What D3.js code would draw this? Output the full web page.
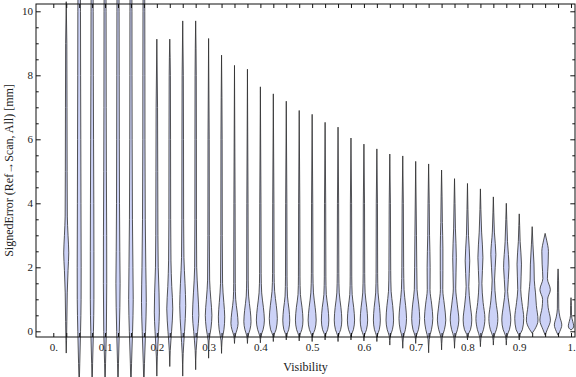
<!DOCTYPE html>
<html>
<head>
<meta charset="utf-8">
<script src="https://cdn.jsdelivr.net/npm/d3@7"></script>
<style>
  body { margin: 0; background: #fff; }
  text { font-family: "Liberation Serif", "Times New Roman", serif; fill: #222; }
</style>
</head>
<body>
<div id="chart"></div>
<script>
// violin positions along the Visibility axis
var visibility = [0.025, 0.05, 0.075, 0.1, 0.125, 0.15, 0.175, 0.2, 0.225, 0.25,
  0.275, 0.3, 0.325, 0.35, 0.375, 0.4, 0.425, 0.45, 0.475, 0.5,
  0.525, 0.55, 0.575, 0.6, 0.625, 0.65, 0.675, 0.7, 0.725, 0.75,
  0.775, 0.8, 0.825, 0.85, 0.875, 0.9, 0.925, 0.95, 0.975, 1.0];

// lowest / highest signed error of each violin (mm)
var minErr = [-0.68, -1.8, -1.8, -1.8, -1.8, -1.8, -1.8, -1.4, -1.1, -1.4,
  -1.2, -0.84, -0.69, -0.38, -0.38, -0.36, -0.32, -0.27, -0.3, -0.32,
  -0.27, -0.32, -0.27, -0.3, -0.32, -0.43, -0.53, -0.38, -0.67, -0.58,
  -0.53, -0.27, -0.48, -0.43, -0.43, -0.27, -0.06, -0.12, -0.12, 0.04];

var maxErr = [10.3, 15, 15, 15, 15, 15, 15, 9.13, 9.13, 9.7,
  9.7, 9.15, 8.63, 8.31, 8.19, 7.64, 7.42, 7.19, 6.9, 6.78,
  6.53, 6.38, 6.04, 5.85, 5.7, 5.54, 5.48, 5.31, 5.23, 5.04,
  4.77, 4.62, 4.45, 4.2, 4.0, 3.67, 3.27, 3.06, 1.95, 1.05];

// density profile of each violin: [error value, relative density]
var profiles = [
  [[-0.3,0.05],[0.3,0.1],[1.2,0.17],[1.9,0.3],[2.45,0.42],[3.0,0.3],[3.6,0.18],[5,0.15],[7,0.13],[9,0.1]],
  [[-1,0.1],[0,0.23],[1,0.32],[2,0.33],[4,0.3],[6,0.27],[8,0.24],[10,0.22],[12,0.15]],
  [[-1,0.08],[0,0.22],[1,0.3],[2.5,0.3],[4,0.28],[6,0.24],[8,0.2],[10,0.18],[12,0.13]],
  [[-1,0.08],[0,0.22],[1.5,0.28],[3,0.27],[5,0.22],[7,0.19],[10,0.17],[12,0.12]],
  [[-1,0.08],[0,0.22],[1.5,0.35],[2.5,0.3],[4,0.25],[6,0.22],[8,0.2],[10,0.18],[12,0.13]],
  [[-1,0.1],[0,0.27],[1,0.38],[2,0.33],[3.5,0.25],[6,0.2],[8,0.18],[10,0.17],[12,0.12]],
  [[-1,0.1],[0,0.28],[0.9,0.4],[2,0.32],[3.5,0.23],[6,0.18],[8,0.17],[10,0.15],[12,0.1]],
  [[-0.8,0.08],[0,0.3],[0.6,0.42],[1.2,0.37],[2,0.23],[3,0.18],[5,0.15],[7,0.12]],
  [[-0.6,0.08],[0,0.3],[0.7,0.5],[1.4,0.33],[2.2,0.2],[3.5,0.15],[6,0.13],[8,0.1]],
  [[-0.7,0.08],[0,0.3],[0.8,0.5],[1.5,0.38],[2.3,0.2],[3.5,0.15],[6,0.13],[8,0.1]],
  [[-0.6,0.08],[0,0.33],[0.5,0.53],[1.2,0.37],[2,0.17],[3.5,0.13],[6,0.12],[8,0.1]],
  [[-0.3,0.08],[0.1,0.4],[0.5,0.55],[1,0.37],[1.6,0.17],[3,0.12],[6,0.1]],
  [[-0.3,0.08],[0.05,0.4],[0.45,0.53],[0.9,0.38],[1.5,0.17],[3,0.12],[6,0.1]],
  [[-0.15,0.1],[0.05,0.42],[0.25,0.6],[0.6,0.45],[1,0.2],[1.5,0.13],[4,0.1]],
  [[-0.15,0.1],[0.05,0.42],[0.3,0.6],[0.65,0.47],[1.1,0.2],[1.6,0.13],[4,0.1]],
  [[-0.15,0.1],[0.05,0.45],[0.35,0.67],[0.75,0.5],[1.2,0.22],[1.8,0.13],[4,0.1]],
  [[-0.12,0.1],[0.05,0.45],[0.4,0.67],[0.8,0.5],[1.25,0.22],[1.8,0.13],[4,0.1]],
  [[-0.1,0.1],[0.05,0.4],[0.35,0.58],[0.7,0.45],[1.1,0.2],[1.7,0.13],[4,0.1]],
  [[-0.12,0.1],[0.05,0.43],[0.35,0.63],[0.75,0.47],[1.15,0.2],[1.7,0.13],[4,0.1]],
  [[-0.12,0.1],[0.05,0.45],[0.35,0.67],[0.75,0.5],[1.2,0.22],[1.8,0.13],[4,0.1]],
  [[-0.1,0.1],[0.05,0.42],[0.35,0.62],[0.75,0.47],[1.15,0.2],[1.7,0.13],[4,0.1]],
  [[-0.12,0.1],[0.05,0.43],[0.35,0.63],[0.75,0.48],[1.2,0.2],[1.8,0.13],[4,0.1]],
  [[-0.1,0.1],[0.05,0.4],[0.35,0.6],[0.75,0.45],[1.15,0.2],[1.7,0.13],[4,0.1]],
  [[-0.12,0.1],[0.05,0.42],[0.35,0.62],[0.75,0.47],[1.2,0.2],[1.8,0.13],[4,0.1]],
  [[-0.12,0.1],[0.05,0.4],[0.35,0.58],[0.75,0.45],[1.2,0.2],[1.8,0.13],[4,0.1]],
  [[-0.15,0.1],[0.05,0.43],[0.35,0.63],[0.8,0.48],[1.25,0.22],[1.9,0.15],[4,0.1]],
  [[-0.2,0.1],[0.05,0.43],[0.4,0.63],[0.8,0.48],[1.3,0.22],[2,0.15],[4,0.1]],
  [[-0.15,0.1],[0.05,0.45],[0.4,0.67],[0.85,0.5],[1.3,0.23],[2,0.18],[3,0.13]],
  [[-0.25,0.1],[0.05,0.47],[0.4,0.7],[0.85,0.5],[1.3,0.23],[2,0.25],[3,0.15],[4,0.1]],
  [[-0.2,0.1],[0.05,0.47],[0.35,0.7],[0.85,0.45],[1.3,0.2],[1.9,0.22],[2.6,0.22],[3.4,0.13],[4.2,0.08]],
  [[-0.2,0.1],[0.05,0.48],[0.35,0.72],[0.85,0.45],[1.35,0.2],[2.3,0.3],[3.2,0.15],[4,0.08]],
  [[-0.1,0.12],[0.05,0.5],[0.35,0.72],[0.85,0.45],[1.4,0.22],[2.2,0.38],[3,0.17],[3.8,0.08]],
  [[-0.2,0.1],[0.05,0.5],[0.4,0.75],[0.9,0.45],[1.5,0.25],[2.3,0.42],[3.1,0.2],[3.8,0.08]],
  [[-0.15,0.12],[0.05,0.5],[0.4,0.75],[0.95,0.42],[1.6,0.2],[2.4,0.42],[3.1,0.17],[3.7,0.07]],
  [[-0.15,0.12],[0.05,0.52],[0.35,0.75],[0.85,0.45],[1.25,0.22],[2,0.45],[2.8,0.2],[3.5,0.08]],
  [[-0.1,0.12],[0.05,0.52],[0.4,0.75],[0.9,0.45],[1.3,0.25],[2.1,0.37],[2.8,0.15],[3.3,0.07]],
  [[0.05,0.4],[0.35,0.97],[0.8,0.7],[1.2,0.55],[1.6,0.35],[2.1,0.3],[2.7,0.13]],
  [[0.05,0.35],[0.35,0.88],[0.75,0.5],[1.0,0.42],[1.3,0.87],[1.65,0.38],[2.1,0.5],[2.5,0.55],[2.85,0.25]],
  [[0.0,0.3],[0.2,0.62],[0.45,0.3],[0.7,0.12],[1.2,0.1],[1.6,0.08]],
  [[0.1,0.35],[0.17,0.45],[0.3,0.3],[0.5,0.08],[0.8,0.07]]
];

var xTickLabels = ["0.", "0.1", "0.2", "0.3", "0.4", "0.5", "0.6", "0.7", "0.8", "0.9", "1."];
var yMajorTicks = [0, 2, 4, 6, 8, 10];
var yMinorTicks = [0.5, 1, 1.5, 2.5, 3, 3.5, 4.5, 5, 5.5, 6.5, 7, 7.5, 8.5, 9, 9.5];

var svgWidth = 576;
var svgHeight = 377;

var margin = { top: 4, right: 1, bottom: 40, left: 36 };
var width = svgWidth - margin.left - margin.right;
var height = svgHeight - margin.top - margin.bottom;

var svg = d3.select("#chart")
  .append("svg")
  .attr("width", svgWidth)
  .attr("height", svgHeight);

var chartGroup = svg.append("g")
  .attr("transform", `translate(${margin.left}, ${margin.top})`);

// scales
var xScale = d3.scaleLinear().domain([-0.0334, 1.0077]).range([0, width]);
var yScale = d3.scaleLinear().domain([-0.178, 10.228]).range([height, 0]);
var wScale = d3.scaleLinear().domain([0, 1]).range([0, 6]);

// violins
var violinArea = d3.area()
  .curve(d3.curveMonotoneY)
  .y(d => yScale(d[0]))
  .x0(d => -wScale(d[1]))
  .x1(d => wScale(d[1]));

var violins = visibility.map(function(v, i) {
  return { vis: v, pts: [[minErr[i], 0]].concat(profiles[i], [[maxErr[i], 0]]) };
});

chartGroup.append("g").selectAll("path")
  .data(violins)
  .enter()
  .append("path")
  .attr("transform", d => `translate(${xScale(d.vis)},0)`)
  .attr("d", d => violinArea(d.pts))
  .attr("fill", "#ccd2f7")
  .attr("stroke", "#2e2e2e")
  .attr("stroke-opacity", 0.9)
  .attr("stroke-width", 0.9);

// frame
chartGroup.append("rect")
  .attr("x", 0)
  .attr("y", 0)
  .attr("width", width)
  .attr("height", height)
  .attr("fill", "none")
  .attr("stroke", "#111")
  .attr("stroke-width", 1);

var xTickValues = [0].concat(visibility);

function styleAxis(g) {
  g.select(".domain").remove();
  g.selectAll("line").attr("stroke", "#111");
  g.selectAll("text").attr("font-size", 11).attr("fill", "#222")
    .attr("font-family", "'Liberation Serif', 'Times New Roman', serif");
}

// bottom axis
chartGroup.append("g")
  .attr("transform", `translate(0, ${height})`)
  .call(d3.axisBottom(xScale)
    .tickValues(xTickValues)
    .tickSizeInner(-4)
    .tickSizeOuter(0)
    .tickPadding(6)
    .tickFormat((d, i) => i % 4 === 0 ? xTickLabels[i / 4] : ""))
  .call(styleAxis);

// top axis
chartGroup.append("g")
  .call(d3.axisTop(xScale)
    .tickValues(xTickValues)
    .tickSizeInner(-4)
    .tickSizeOuter(0)
    .tickFormat(""))
  .call(styleAxis);

// left axis
chartGroup.append("g")
  .call(d3.axisLeft(yScale).tickValues(yMinorTicks).tickSizeInner(-2.7).tickSizeOuter(0).tickFormat(""))
  .call(styleAxis);
chartGroup.append("g")
  .call(d3.axisLeft(yScale).tickValues(yMajorTicks).tickSizeInner(-4.7).tickSizeOuter(0).tickPadding(3))
  .call(styleAxis);

// right axis
chartGroup.append("g")
  .attr("transform", `translate(${width}, 0)`)
  .call(d3.axisRight(yScale).tickValues(yMinorTicks).tickSizeInner(-2.7).tickSizeOuter(0).tickFormat(""))
  .call(styleAxis);
chartGroup.append("g")
  .attr("transform", `translate(${width}, 0)`)
  .call(d3.axisRight(yScale).tickValues(yMajorTicks).tickSizeInner(-4.7).tickSizeOuter(0).tickFormat(""))
  .call(styleAxis);

// axis labels
svg.append("text")
  .attr("x", margin.left + width / 2)
  .attr("y", 371)
  .attr("text-anchor", "middle")
  .attr("font-size", 12)
  .text("Visibility");

svg.append("text")
  .attr("transform", `translate(12.5, ${margin.top + height / 2}) rotate(-90)`)
  .attr("text-anchor", "middle")
  .attr("font-size", 12)
  .text("SignedError (Ref\u2192Scan, All) [mm]");
</script>
</body>
</html>
